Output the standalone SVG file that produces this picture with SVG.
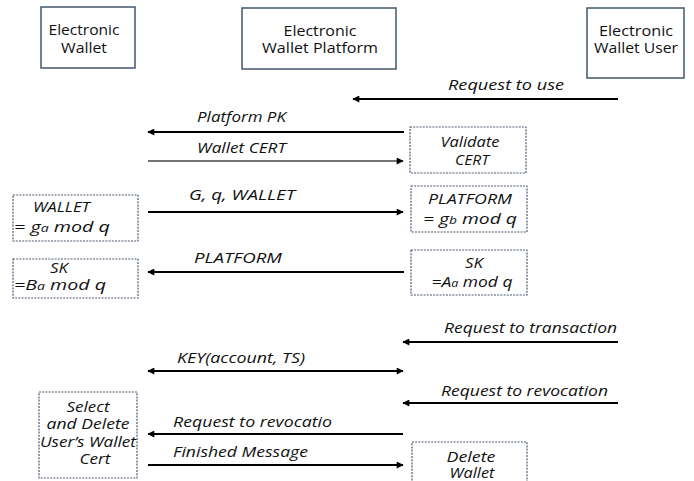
<svg xmlns="http://www.w3.org/2000/svg" width="694" height="481" viewBox="0 0 694 481">
<defs>
<style>
.actor{fill:#fff;stroke:#44556b;stroke-width:1.5}
.note{fill:#fff;stroke:#4a5a72;stroke-width:1.2;stroke-dasharray:2 1.2}
.ht{font-family:"Open Sans","Liberation Sans",sans-serif;font-size:14px;fill:#111;text-anchor:middle}
.lb{font-family:"Open Sans","Liberation Sans",sans-serif;font-size:15px;font-style:italic;fill:#111}
.nt{font-family:"Open Sans","Liberation Sans",sans-serif;font-size:14px;font-style:italic;fill:#111}
.big{font-size:15px}
.c{text-anchor:middle}
.msg{stroke:#000;stroke-width:2;fill:none}
.msg2{stroke:#444;stroke-width:1.4;fill:none}
</style>
<marker id="ah" viewBox="0 0 10 10" refX="9" refY="5" markerWidth="8" markerHeight="7" markerUnits="userSpaceOnUse" orient="auto-start-reverse">
<path d="M0,0 L10,5 L0,10 z" fill="#000"/>
</marker>
</defs>
<rect width="694" height="481" fill="#fff"/>

<g id="wallet">
<rect class="actor" x="41" y="7" width="94" height="61"/>
<text class="ht" x="84" y="35" textLength="71" lengthAdjust="spacingAndGlyphs">Electronic</text>
<text class="ht" x="84" y="53" textLength="46" lengthAdjust="spacingAndGlyphs">Wallet</text>
</g>
<g id="platform">
<rect class="actor" x="242" y="8" width="154" height="61"/>
<text class="ht" x="320" y="36" textLength="73" lengthAdjust="spacingAndGlyphs">Electronic</text>
<text class="ht" x="320" y="53" textLength="116" lengthAdjust="spacingAndGlyphs">Wallet Platform</text>
</g>
<g id="user">
<rect class="actor" x="587" y="8" width="97" height="70"/>
<text class="ht" x="636" y="36" textLength="74" lengthAdjust="spacingAndGlyphs">Electronic</text>
<text class="ht" x="636" y="53" textLength="84" lengthAdjust="spacingAndGlyphs">Wallet User</text>
</g>

<g id="validate-cert">
<rect class="note" x="410" y="127" width="116" height="46"/>
<text class="nt c" x="470" y="147" textLength="59" lengthAdjust="spacingAndGlyphs">Validate</text>
<text class="nt c big" x="472" y="165" textLength="34" lengthAdjust="spacingAndGlyphs">CERT</text>
</g>
<g id="platform-calc">
<rect class="note" x="411" y="186" width="116" height="46"/>
<text class="nt c" x="470" y="204" textLength="84" lengthAdjust="spacingAndGlyphs">PLATFORM</text>
<text class="nt c" x="470" y="224" textLength="94" lengthAdjust="spacingAndGlyphs">= g<tspan font-size="10">b</tspan> mod q</text>
</g>
<g id="platform-sk">
<rect class="note" x="411" y="250" width="116" height="45"/>
<text class="nt c big" x="474" y="268" textLength="18" lengthAdjust="spacingAndGlyphs">SK</text>
<text class="nt c" x="472" y="287" textLength="81" lengthAdjust="spacingAndGlyphs">=A<tspan font-size="10">a</tspan> mod q</text>
</g>
<g id="wallet-calc">
<rect class="note" x="13" y="195" width="125" height="46"/>
<text class="nt" x="33" y="212" textLength="57" lengthAdjust="spacingAndGlyphs">WALLET</text>
<text class="nt" x="14" y="232" textLength="96" lengthAdjust="spacingAndGlyphs">= g<tspan font-size="10">a</tspan> mod q</text>
</g>
<g id="wallet-sk">
<rect class="note" x="13" y="259" width="125" height="39"/>
<text class="nt big" x="50" y="273" textLength="18" lengthAdjust="spacingAndGlyphs">SK</text>
<text class="nt" x="14" y="290" textLength="92" lengthAdjust="spacingAndGlyphs">=B<tspan font-size="10">a</tspan> mod q</text>
</g>
<g id="select-delete">
<rect class="note" x="39" y="392" width="98" height="86"/>
<text class="nt c" x="88" y="412" textLength="43" lengthAdjust="spacingAndGlyphs">Select</text>
<text class="nt c" x="88" y="429" textLength="83" lengthAdjust="spacingAndGlyphs">and Delete</text>
<text class="nt c" x="88" y="447" textLength="96" lengthAdjust="spacingAndGlyphs">User’s Wallet</text>
<text class="nt c" x="95" y="464" textLength="31" lengthAdjust="spacingAndGlyphs">Cert</text>
</g>
<g id="delete-wallet">
<rect class="note" x="412" y="442" width="115" height="45"/>
<text class="nt c" x="471" y="462" textLength="49" lengthAdjust="spacingAndGlyphs">Delete</text>
<text class="nt c" x="472" y="478" textLength="45" lengthAdjust="spacingAndGlyphs">Wallet</text>
</g>

<g id="connectors">
<line class="msg" x1="618" y1="99" x2="353" y2="99" marker-end="url(#ah)"/>
<text class="lb" x="448" y="90" textLength="116" lengthAdjust="spacingAndGlyphs">Request to use</text>

<line class="msg" x1="404" y1="132" x2="148" y2="132" marker-end="url(#ah)"/>
<text class="lb" x="197" y="122" textLength="89" lengthAdjust="spacingAndGlyphs">Platform PK</text>

<line class="msg2" x1="148" y1="161" x2="403" y2="161" marker-end="url(#ah)"/>
<text class="lb" x="197" y="153" textLength="89" lengthAdjust="spacingAndGlyphs">Wallet CERT</text>

<line class="msg" x1="148" y1="212" x2="403" y2="212" marker-end="url(#ah)"/>
<text class="lb" x="189" y="200" textLength="106" lengthAdjust="spacingAndGlyphs">G, q, WALLET</text>

<line class="msg" x1="404" y1="272" x2="148" y2="272" marker-end="url(#ah)"/>
<text class="lb" x="194" y="263" textLength="88" lengthAdjust="spacingAndGlyphs">PLATFORM</text>

<line class="msg" x1="618" y1="342" x2="403" y2="342" marker-end="url(#ah)"/>
<text class="lb" x="444" y="333" textLength="173" lengthAdjust="spacingAndGlyphs">Request to transaction</text>

<line class="msg" x1="148" y1="371" x2="403" y2="371" marker-start="url(#ah)" marker-end="url(#ah)"/>
<text class="lb" x="177" y="363" textLength="128" lengthAdjust="spacingAndGlyphs">KEY(account, TS)</text>

<line class="msg" x1="618" y1="403" x2="403" y2="403" marker-end="url(#ah)"/>
<text class="lb" x="441" y="396" textLength="167" lengthAdjust="spacingAndGlyphs">Request to revocation</text>

<line class="msg" x1="403" y1="434" x2="148" y2="434" marker-end="url(#ah)"/>
<text class="lb" x="173" y="427" textLength="159" lengthAdjust="spacingAndGlyphs">Request to revocatio</text>

<line class="msg" x1="148" y1="465" x2="403" y2="465" marker-end="url(#ah)"/>
<text class="lb" x="173" y="457" textLength="135" lengthAdjust="spacingAndGlyphs">Finished Message</text>
</g>
</svg>
